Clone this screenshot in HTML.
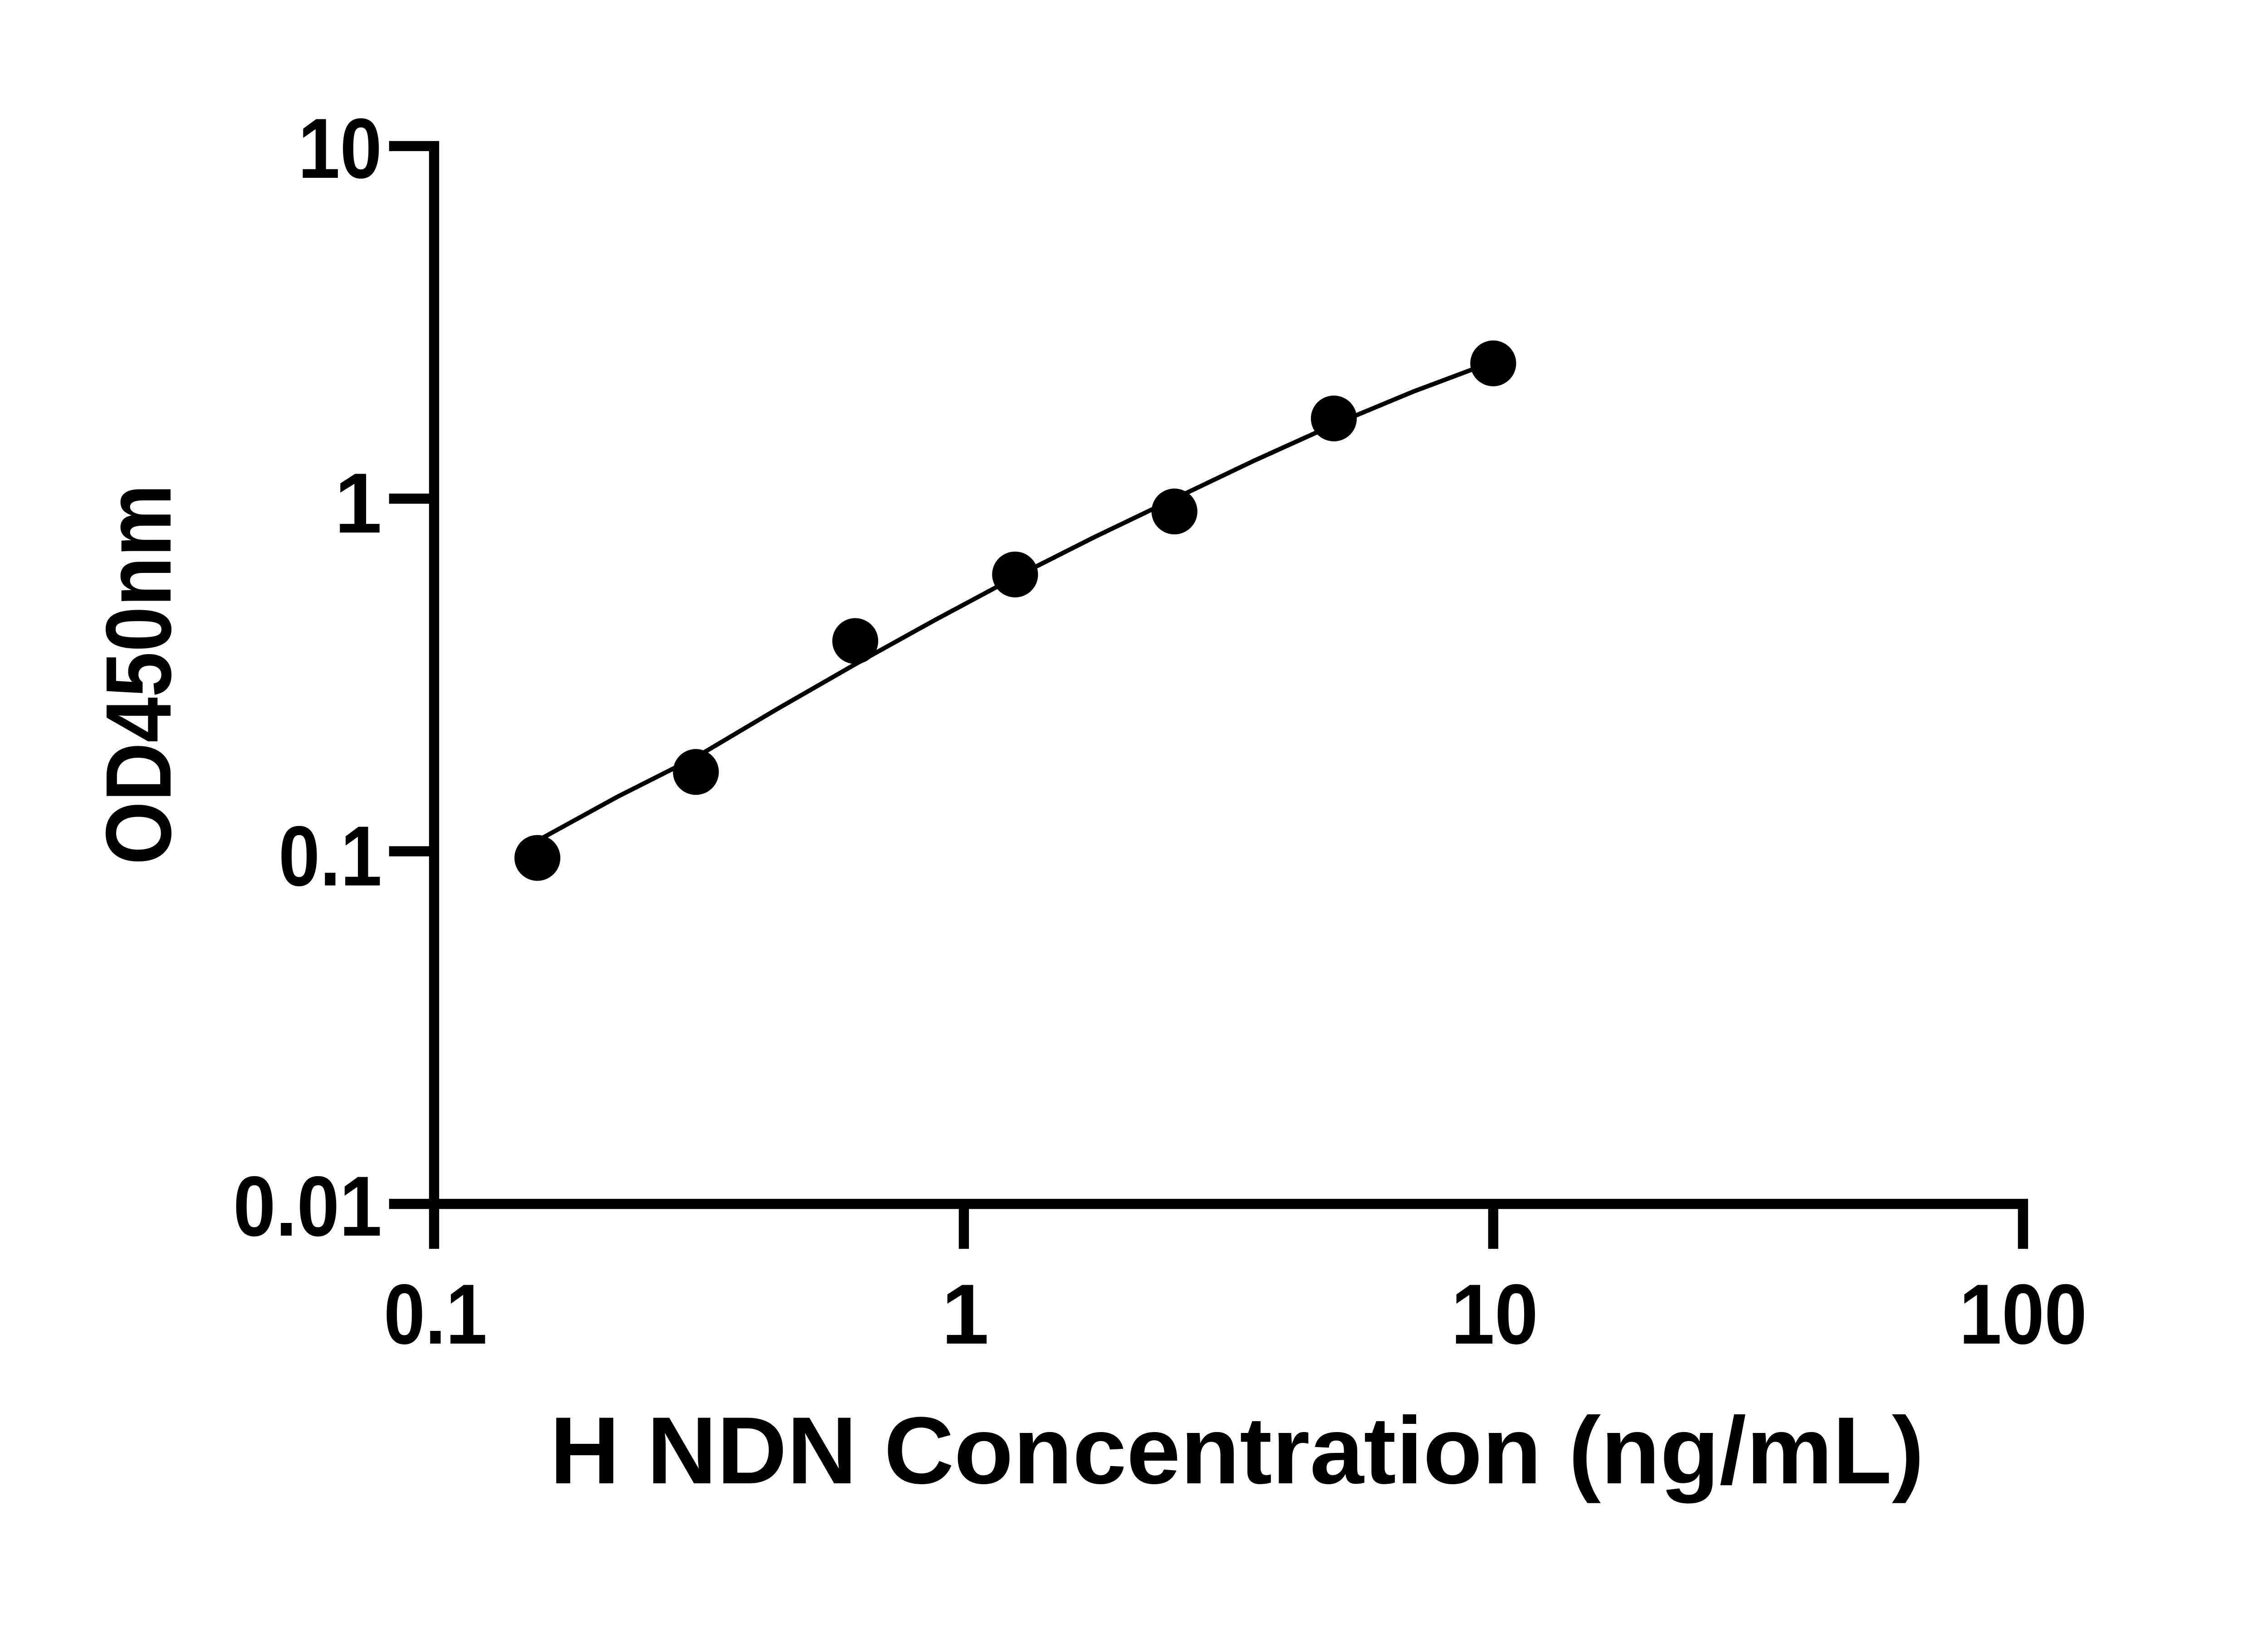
<!DOCTYPE html>
<html><head><style>html,body{margin:0;padding:0;background:#fff}svg{display:block}</style></head>
<body>
<svg width="5142" height="3600" viewBox="0 0 5142 3600" xmlns="http://www.w3.org/2000/svg">
<rect width="5142" height="3600" fill="#fff"/>
<g transform="matrix(0.9733,0,0,0.9717,-6.6,-4.5)">
<g stroke="#000" stroke-width="23" fill="none" stroke-linecap="butt">
<path d="M888 336 H990 V2736 H4589 V2838"/>
<line x1="888" y1="1136" x2="990" y2="1136"/>
<line x1="888" y1="1936" x2="990" y2="1936"/>
<line x1="888" y1="2736" x2="990" y2="2736"/>
<line x1="990" y1="2736" x2="990" y2="2838"/>
<line x1="2190" y1="2736" x2="2190" y2="2838"/>
<line x1="3389" y1="2736" x2="3389" y2="2838"/>
</g>
<path d="M1224 1912 L1404 1813 L1584 1722 L1764 1615 L1945 1511 L2125 1411 L2306 1314 L2486 1223 L2667 1136 L2847 1050 L3028 968 L3208 893 L3389 825" stroke="#000" stroke-width="10" fill="none" stroke-linejoin="round"/>
<g fill="#000">
<circle cx="1224" cy="1951" r="52"/>
<circle cx="1583" cy="1756" r="52"/>
<circle cx="1944" cy="1459" r="52"/>
<circle cx="2306" cy="1308" r="52"/>
<circle cx="2667" cy="1165" r="52"/>
<circle cx="3028" cy="954" r="52"/>
<circle cx="3389" cy="829" r="52"/>
</g>
</g>
<g font-family="Liberation Sans, sans-serif" font-weight="bold" font-size="188" fill="#000">
<g text-anchor="end">
<text x="842" y="392" textLength="185" lengthAdjust="spacingAndGlyphs">10</text>
<text x="842" y="1174">1</text>
<text x="842" y="1952" textLength="228" lengthAdjust="spacingAndGlyphs">0.1</text>
<text x="842" y="2724" textLength="328" lengthAdjust="spacingAndGlyphs">0.01</text>
</g>
<g text-anchor="middle">
<text x="960" y="2962" textLength="228" lengthAdjust="spacingAndGlyphs">0.1</text>
<text x="2128" y="2962">1</text>
<text x="3295" y="2962" textLength="192" lengthAdjust="spacingAndGlyphs">10</text>
<text x="4460" y="2962" textLength="282" lengthAdjust="spacingAndGlyphs">100</text>
</g>
<text x="2727" y="3270" text-anchor="middle" font-size="210" textLength="3030" lengthAdjust="spacingAndGlyphs">H NDN Concentration (ng/mL)</text>
<text transform="translate(376,1487) rotate(-90)" text-anchor="middle" font-size="205" textLength="839" lengthAdjust="spacingAndGlyphs">OD450nm</text>
</g>
</svg>
</body></html>
